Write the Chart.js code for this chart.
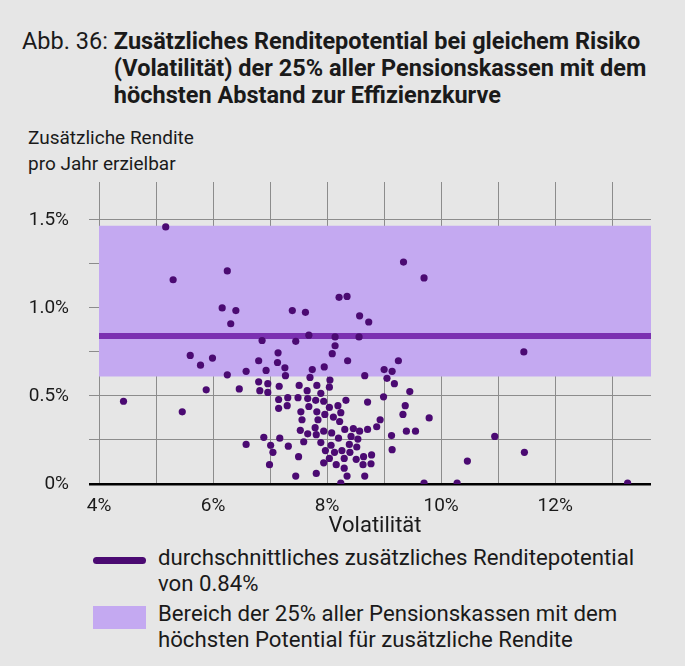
<!DOCTYPE html>
<html lang="de">
<head>
<meta charset="utf-8">
<title>Abb. 36</title>
<script src="https://cdn.jsdelivr.net/npm/chart.js@4.4.1/dist/chart.umd.min.js"></script>
<style>
    html, body {
        margin: 0;
        padding: 0;
        background: #e6e6e6;
        font-family: Roboto, "Noto Sans", sans-serif;
        color: #1a1a1a;
    }
    #page {
        position: relative;
        width: 685px;
        height: 666px;
        overflow: hidden;
    }
    .title {
        position: absolute;
        left: 22px;
        top: 28px;
        width: 660px;
        display: flex;
        font-size: 23.5px;
        line-height: 27px;
        white-space: nowrap;
    }
    .title .nr {
        flex: 0 0 auto;
        padding-right: 6px;
    }
    .title .txt {
        font-weight: bold;
    }
    .ytitle {
        position: absolute;
        left: 28px;
        top: 125px;
        font-size: 19px;
        line-height: 26px;
    }
    #chart-wrap {
        position: absolute;
        left: 0;
        top: 170px;
    }
    .legend {
        position: absolute;
        left: 93px;
        top: 544px;
        font-size: 22.2px;
        line-height: 26px;
    }
    .legend .row {
        display: flex;
        align-items: flex-start;
        margin-bottom: 4px;
    }
    .legend .sym {
        flex: 0 0 53px;
        margin-right: 12px;
        position: relative;
        height: 52px;
    }
    .legend .sym-line {
        position: absolute;
        left: 0;
        top: 13px;
        width: 53px;
        height: 7px;
        border-radius: 4px;
        background: #4b0a72;
    }
    .legend .sym-box {
        position: absolute;
        left: 0;
        top: 6px;
        width: 53px;
        height: 23px;
        background: #c4a9f1;
    }
</style>
</head>
<body>
<div id="page">
    <div class="title">
        <span class="nr">Abb. 36:</span>
        <span class="txt">Zusätzliches Renditepotential bei gleichem Risiko<br>(Volatilität) der 25% aller Pensionskassen mit dem<br>höchsten Abstand zur Effizienzkurve</span>
    </div>
    <div class="ytitle">Zusätzliche Rendite<br>pro Jahr erzielbar</div>
    <div id="chart-wrap">
        <canvas id="scatter-chart" width="685" height="370"></canvas>
    </div>
    <div class="legend">
        <div class="row">
            <div class="sym"><div class="sym-line"></div></div>
            <div>durchschnittliches zusätzliches Renditepotential<br>von 0.84%</div>
        </div>
        <div class="row">
            <div class="sym"><div class="sym-box"></div></div>
            <div>Bereich der 25% aller Pensionskassen mit dem<br>höchsten Potential für zusätzliche Rendite</div>
        </div>
    </div>
</div>

<script>
// Volatilität (%) und zusätzliche Rendite p.a. (%) je Pensionskasse
var volatility = [
    5.17, 6.25, 5.30, 6.16, 6.40, 6.31, 7.39, 7.62, 8.21, 8.35,
    8.57, 8.73, 6.86, 7.45, 7.68, 8.14, 8.56, 8.14, 7.14, 8.09,
    9.34, 9.70, 11.45, 5.60, 5.78, 5.99, 6.25, 5.88, 4.43, 5.46,
    6.80, 7.13, 7.26, 8.36, 7.95, 6.58, 6.93, 7.74, 7.27, 7.70, 8.66,
    6.80, 6.96, 7.16, 7.51, 7.82, 8.05, 8.04, 6.46, 6.82, 6.96, 7.65, 7.89,
    7.15, 7.31, 7.49, 7.66, 7.80, 7.94, 8.33, 8.71,
    7.15, 7.30, 7.68, 7.54, 7.82, 8.04, 8.19, 7.96, 8.24, 8.11, 7.56, 7.84, 8.22,
    7.79, 7.53, 7.66, 7.81, 7.94, 8.08, 8.31, 8.46, 8.57, 8.71,
    8.20, 8.42, 8.54, 6.89, 7.17,
    6.58, 7.01, 7.32, 7.59, 7.89, 8.07, 8.39, 8.52,
    7.97, 8.13, 8.26, 8.40, 7.05,
    7.50, 8.04, 8.30, 8.51, 8.64,
    7.94, 8.16, 8.63, 6.99, 8.30,
    7.81, 7.45, 8.35, 8.66, 8.24,
    9.25, 9.00, 9.14, 9.05, 9.18, 9.45, 8.99, 9.37, 9.33, 9.79, 8.93,
    8.87, 9.39, 9.55, 9.13, 10.94, 9.14, 8.78, 8.77, 10.46, 9.70, 10.28,
    11.46, 13.27
];
var extraReturn = [
    1.46, 1.21, 1.16, 1.00, 0.985, 0.91, 0.985, 0.975, 1.06, 1.065,
    0.955, 0.92, 0.815, 0.81, 0.845, 0.835, 0.835, 0.785, 0.745, 0.74,
    1.26, 1.17, 0.75, 0.73, 0.675, 0.715, 0.62, 0.535, 0.47, 0.41,
    0.70, 0.69, 0.66, 0.70, 0.665, 0.64, 0.645, 0.65, 0.615, 0.605, 0.615,
    0.58, 0.57, 0.555, 0.56, 0.56, 0.59, 0.55, 0.54, 0.53, 0.52, 0.53, 0.515,
    0.48, 0.49, 0.49, 0.485, 0.475, 0.47, 0.475, 0.465,
    0.43, 0.445, 0.44, 0.41, 0.41, 0.435, 0.445, 0.395, 0.405, 0.38, 0.365, 0.365, 0.355,
    0.32, 0.305, 0.285, 0.28, 0.30, 0.29, 0.31, 0.315, 0.30, 0.31,
    0.26, 0.27, 0.255, 0.265, 0.26,
    0.225, 0.22, 0.215, 0.24, 0.235, 0.22, 0.225, 0.21,
    0.19, 0.18, 0.19, 0.18, 0.18,
    0.155, 0.145, 0.145, 0.14, 0.155,
    0.12, 0.11, 0.11, 0.11, 0.09,
    0.06, 0.045, 0.045, 0.045, 0.005,
    0.70, 0.65, 0.64, 0.60, 0.57, 0.525, 0.495, 0.445, 0.395, 0.375, 0.365,
    0.325, 0.30, 0.30, 0.275, 0.27, 0.195, 0.165, 0.115, 0.13, 0.005, 0.005,
    0.18, 0.005
];

// Durchschnitt und Bereich der oberen 25%
var meanReturn = 0.84;
var bandTop = 1.466;
var bandBottom = 0.61;

var xMin = 4;
var xMax = 13.68;
var yMax = 1.715;
var yLabels = {0: '0%', 0.5: '0.5%', 1: '1.0%', 1.5: '1.5%'};

var colorPoint = '#4b0a72';
var colorMean = '#7b31b1';
var colorBand = '#c4a9f1';
var colorGrid = '#8c8c8c';

var points = [];
for (var i = 0; i < volatility.length; i++) {
    points.push({x: volatility[i], y: extraReturn[i]});
}

Chart.defaults.font.family = 'Roboto, "Noto Sans", sans-serif';
Chart.defaults.color = '#1a1a1a';

var configScatter = {
    type: 'scatter',
    data: {
        datasets: [
            {
                label: 'Pensionskassen',
                data: points,
                backgroundColor: colorPoint,
                borderWidth: 0,
                pointRadius: 3.6,
                order: 0
            }, {
                type: 'line',
                label: 'Durchschnitt',
                data: [{x: xMin, y: meanReturn}, {x: xMax, y: meanReturn}],
                borderColor: colorMean,
                borderWidth: 6,
                pointRadius: 0,
                fill: false,
                order: 1
            }, {
                type: 'line',
                label: 'Bereich oben',
                data: [{x: xMin, y: bandTop}, {x: xMax, y: bandTop}],
                borderWidth: 0,
                pointRadius: 0,
                backgroundColor: colorBand,
                fill: '+1',
                order: 2
            }, {
                type: 'line',
                label: 'Bereich unten',
                data: [{x: xMin, y: bandBottom}, {x: xMax, y: bandBottom}],
                borderWidth: 0,
                pointRadius: 0,
                fill: false,
                order: 3
            }]
    },
    options: {
        responsive: false,
        animation: false,
        devicePixelRatio: 1,
        layout: {
            padding: {top: 12, right: 34, bottom: 0, left: 0}
        },
        plugins: {
            legend: {display: false},
            tooltip: {enabled: false}
        },
        scales: {
            x: {
                type: 'linear',
                min: xMin,
                max: xMax,
                afterFit: function (scale) {
                    scale.height = 56;
                    scale.paddingLeft = 0;
                    scale.paddingRight = 0;
                },
                afterBuildTicks: function (scale) {
                    var ticks = [];
                    for (var v = 4; v <= 13; v++) {
                        ticks.push({value: v});
                    }
                    scale.ticks = ticks;
                },
                ticks: {
                    autoSkip: false,
                    maxRotation: 0,
                    padding: 11,
                    font: {size: 19},
                    callback: function (value) {
                        return value % 2 === 0 ? value + '%' : '';
                    }
                },
                grid: {
                    color: colorGrid,
                    lineWidth: 1,
                    drawTicks: false
                },
                border: {display: false},
                title: {
                    display: true,
                    text: 'Volatilität',
                    font: {size: 22},
                    padding: {top: 0, bottom: 0}
                }
            },
            y: {
                type: 'linear',
                min: 0,
                max: yMax,
                afterFit: function (scale) {
                    scale.width = 99;
                    scale.paddingTop = 0;
                    scale.paddingBottom = 0;
                },
                afterBuildTicks: function (scale) {
                    var ticks = [];
                    for (var v = 0; v <= 1.5001; v += 0.25) {
                        ticks.push({value: Math.round(v * 100) / 100});
                    }
                    scale.ticks = ticks;
                },
                ticks: {
                    padding: 20,
                    font: {size: 19},
                    callback: function (value) {
                        return yLabels[value] !== undefined ? yLabels[value] : '';
                    }
                },
                grid: {
                    tickLength: 10,
                    color: function (ctx) {
                        return ctx.tick && ctx.tick.value === 0 ? '#000000' : colorGrid;
                    },
                    lineWidth: function (ctx) {
                        return ctx.tick && ctx.tick.value === 0 ? 2.5 : 1;
                    }
                },
                border: {display: false}
            }
        }
    }
};

var ctxScatter = document.getElementById('scatter-chart').getContext('2d');
var myScatter = new Chart(ctxScatter, configScatter);
</script>
</body>
</html>
